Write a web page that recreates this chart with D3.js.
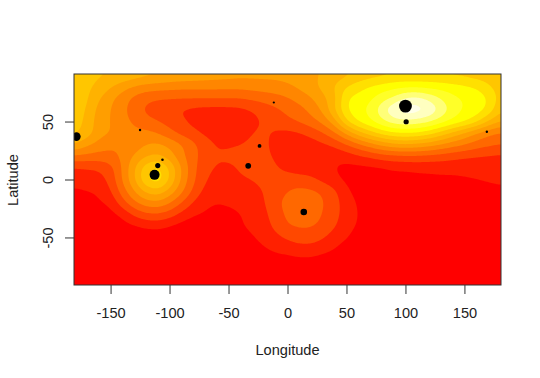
<!DOCTYPE html>
<html lang="en">
  <head>
    <meta charset="UTF-8" />
    <title>Longitude / Latitude surface</title>
    <script src="https://d3js.org/d3.v7.min.js"></script>
    <style>
      body { margin: 0; background: #fff; }
      text { font-family: "Liberation Sans", Arial, sans-serif; font-size: 14.6px; fill: #222; }
    </style>
  </head>
  <body>
    <svg id="chart" width="540" height="378"></svg>

    <script>
      // surface, one row per latitude (90 down to -90, step 10),
      // one column per longitude (-180 to 180, step 10)
      const lonStart = -180, latStart = 90, gridStep = 10;
      const surface = [
        [7.4,7.3,7.1,7,6.9,6.6,6.3,6.1,5.9,5.8,5.7,5.6,5.5,5.4,5.3,5.3,5.3,5.3,5.4,5.6,5.8,6.1,6.4,6.8,7.2,7.5,7.7,7.9,8,8,8,7.9,7.8,7.7,7.5,7.4,7.2],
        [7.4,7.2,6.8,6.1,5.4,4.9,4.6,4.5,4.4,4.3,4.3,4.3,4.3,4.3,4.3,4.4,4.5,4.6,4.8,5.2,5.7,6.3,7.1,8,8.6,9.1,9.4,9.7,9.8,9.8,9.7,9.6,9.4,9.2,8.9,8.2,7.5],
        [7.4,7.2,6.1,5.2,4.5,3.7,3.2,3,3,3,3,3,3,3,3,3.2,3.4,3.6,3.9,4.4,4.9,5.7,6.7,9,9.4,9.8,10.6,11.2,12.2,12.4,11.8,11,10.3,9.9,9.7,9,7.6],
        [7.4,7,5.6,5,4.3,3.4,2.8,2.5,2.2,1.9,1.7,1.6,1.6,1.6,1.7,2,2.4,2.8,3.2,3.6,4.3,5.2,7,9,9.7,10.3,11.7,13,13.8,13.6,13,11.8,10.6,9.9,9.6,8.8,7.2],
        [7.4,6.8,5.4,5,4.4,3.8,3.3,3,2.6,2.2,1.7,1.4,1.3,1.3,1.4,1.7,2.1,2.5,2.8,3.1,3.6,4.3,5.6,8,9.2,9.9,10.8,11.6,11.8,11.6,11.2,10.5,9.8,9.3,8.4,7,6],
        [7.2,6.6,5.4,5,4.6,4.3,4.3,4,3.3,2.7,2.3,1.8,1.5,1.5,1.6,2,2.2,1.8,1.7,1.9,2.3,2.9,3.8,5.2,6.6,7.6,8.4,8.9,9,8.9,8.4,7.6,6.7,5.8,4.9,4.2,3.8],
        [6,5.2,4.6,4.2,4.1,4.4,5,5.2,4.8,4.1,3.3,2.5,1.9,1.9,2,2.2,2.2,1.7,1.3,1.3,1.5,1.8,2.2,2.9,3.7,4.5,5.2,5.7,5.9,5.7,5.4,4.9,4.4,4,3.5,3.2,3],
        [3.8,3.7,3.6,3.7,4.2,5.1,5.9,6.2,5.5,4.3,3.3,2.6,2.1,2.2,2.3,2.4,2.2,1.9,1.4,1.2,1.1,1.1,1.2,1.4,1.8,2.1,2.5,2.6,2.7,2.7,2.6,2.5,2.3,2.1,2,1.9,1.8],
        [1.9,2,2.1,2.6,4.1,5.9,7.7,8.4,7,5,3.3,2.3,1.9,1.8,2.1,2.3,2.3,2.1,1.7,1.5,1.5,1.3,1,0.7,0.7,0.8,0.9,1.2,1.2,1.3,1.3,1.3,1.3,1.3,1.3,1.3,1.3],
        [1.3,1.4,1.6,2.3,4.1,5.9,8,8.8,7,4.9,3.2,2.1,1.6,1.7,1.9,2,2.2,2.4,2.5,2.4,2.2,1.7,1.2,0.8,0.4,0.3,0.3,0.4,0.5,0.6,0.7,0.8,0.8,0.9,1,1.1,1.2],
        [0.9,1,1.1,1.9,3.5,5,6.3,6.7,5.7,4.3,2.8,1.7,1.4,1.5,1.7,1.8,2,2.6,3,3.3,3.2,2.9,2.2,1.2,0.6,0.3,0.1,0,0,0,0.1,0.2,0.4,0.5,0.6,0.7,0.8],
        [0.4,0.6,0.9,1.2,2.6,3.8,4.6,4.8,4.1,3,1.9,1.2,1,1.1,1.2,1.5,1.9,2.8,3.3,3.6,3.5,3.1,2.4,1.5,0.9,0.2,0,0,0,0,0,0,0,0,0,0,0],
        [0,0.2,0.4,0.7,1.2,2.2,2.8,2.9,2.5,1.7,1.1,0.9,0.7,0.8,1,1.2,1.7,2.6,3.2,3.5,3.4,3,2.3,1.6,1,0.3,0,0,0,0,0,0,0,0,0,0,0],
        [0,0,0.1,0.3,0.6,0.9,1.2,1.3,1,0.6,0.4,0.4,0.4,0.4,0.9,1.3,1.5,2.3,3,3.1,3.1,2.8,2.1,1.4,0.9,0.3,0,0,0,0,0,0,0,0,0,0,0],
        [0,0,0,0,0.1,0.2,0.3,0.3,0.2,0.1,0.1,0.1,0.1,0.2,0.4,0.9,1.4,1.7,2.2,2.6,2.6,2.1,1.5,1.1,0.5,0.1,0,0,0,0,0,0,0,0,0,0,0],
        [0,0,0,0,0,0,0,0.1,0,0,0,0,0,0,0.1,0.4,0.9,1.2,1.3,1.5,1.5,1.3,1,0.5,0.1,0,0,0,0,0,0,0,0,0,0,0,0],
        [0,0,0,0,0,0,0,0,0,0,0,0,0,0,0,0.1,0.4,0.6,0.7,0.8,0.8,0.6,0.4,0.2,0,0,0,0,0,0,0,0,0,0,0,0,0],
        [0,0,0,0,0,0,0,0,0,0,0,0,0,0,0,0,0,0.1,0.2,0.2,0.2,0.1,0,0,0,0,0,0,0,0,0,0,0,0,0,0,0],
        [0,0,0,0,0,0,0,0,0,0,0,0,0,0,0,0,0,0,0,0,0,0,0,0,0,0,0,0,0,0,0,0,0,0,0,0,0],
      ];
      const bandColors = ["#FF0000","#FF2000","#FF4800","#FF6800","#FF8600","#FF9E00","#FFB200","#FFC600","#FFE000","#FFFF00","#FFFF28","#FFFF78","#FFFFC0","#FFFFE8"];

      // black dots
      const pointLon = [100,-112.7,-110,-106,-125,-23.7,-33.3,-11.6,13.8,100.6,169,-179];
      const pointLat = [63.3,4,12,17,42.7,29,11.8,66.4,-28,49.8,41.2,37];
      const pointMag = [6.4,5,2.6,1.3,1.2,1.9,2.9,1.1,3.3,2.6,1.2,4.3];

      const lonTicks = [-150,-100,-50,0,50,100,150];
      const latTicks = [-50,0,50];

      const svg = d3.select("#chart"),
        margin = { top: 74, right: 39, bottom: 93, left: 74 },
        width = +svg.attr("width") - margin.left - margin.right,
        height = +svg.attr("height") - margin.top - margin.bottom,
        chart = svg.append("g").attr("transform", `translate(${margin.left},${margin.top})`);

      const x = d3.scaleLinear().domain([-181, 181]).range([0, width]);
      const y = d3.scaleLinear().domain([-91, 91]).range([height, 0]);
      const r = d3.scaleLinear().domain([0, 10]).range([0, 10]);

      // resample to one degree so the bands come out smooth
      const nx = 363, ny = 183;
      const fine = new Float64Array(nx * ny);
      for (let j = 0; j < ny; j++) {
        const gy = Math.min(surface.length - 1.001, Math.max(0, (latStart - (91 - j)) / gridStep));
        const j0 = Math.floor(gy), ty = gy - j0;
        for (let i = 0; i < nx; i++) {
          const gx = Math.min(surface[0].length - 1.001, Math.max(0, (-181 + i - lonStart) / gridStep));
          const i0 = Math.floor(gx), tx = gx - i0;
          const top = surface[j0][i0] * (1 - tx) + surface[j0][i0 + 1] * tx;
          const bot = surface[j0 + 1][i0] * (1 - tx) + surface[j0 + 1][i0 + 1] * tx;
          fine[j * nx + i] = top * (1 - ty) + bot * ty;
        }
      }
      d3.blur2({ data: fine, width: nx, height: ny }, 3);

      const contours = d3.contours().size([nx, ny]).thresholds(d3.range(1, bandColors.length))(fine);
      const path = d3.geoPath(
        d3.geoTransform({
          point: function (px, py) {
            this.stream.point(x(-181 + px - 0.5), y(91 - py + 0.5));
          },
        })
      );

      svg.append("clipPath").attr("id", "plot").append("rect").attr("width", width).attr("height", height);
      const plot = chart.append("g").attr("clip-path", "url(#plot)");

      plot.append("rect").attr("width", width).attr("height", height).attr("fill", bandColors[0]);

      plot
        .selectAll("path")
        .data(contours)
        .enter()
        .append("path")
        .attr("d", path)
        .attr("fill", (d) => bandColors[d.value]);

      plot
        .selectAll("circle")
        .data(pointLon)
        .enter()
        .append("circle")
        .attr("cx", (d) => x(d))
        .attr("cy", (d, i) => y(pointLat[i]))
        .attr("r", (d, i) => r(pointMag[i]))
        .attr("fill", "#000");

      // Axes, R style hyphen in the labels
      const xAxis = chart
        .append("g")
        .attr("transform", `translate(0,${height})`)
        .call(d3.axisBottom(x).tickValues(lonTicks).tickFormat((d) => String(d)).tickSize(9).tickPadding(14));
      const yAxis = chart
        .append("g")
        .call(d3.axisLeft(y).tickValues(latTicks).tickFormat((d) => String(d)).tickSize(9).tickPadding(0));

      xAxis.select(".domain").remove();
      yAxis.select(".domain").remove();
      xAxis.selectAll("line").attr("stroke", "#333");
      yAxis.selectAll("line").attr("stroke", "#333");
      xAxis.selectAll("text").attr("fill", "#222").style("font-size", "14.6px").style("font-family", '"Liberation Sans"');
      yAxis
        .selectAll("text")
        .attr("fill", "#222")
        .attr("x", null)
        .attr("dy", null)
        .attr("transform", "translate(-21,0) rotate(-90)")
        .style("text-anchor", "middle")
        .style("font-size", "14.6px")
        .style("font-family", '"Liberation Sans"');

      chart
        .append("rect")
        .attr("width", width)
        .attr("height", height)
        .attr("fill", "none")
        .attr("stroke", "#333");

      // Axis Labels
      svg.append("text").attr("x", 287.5).attr("y", 355).style("text-anchor", "middle").text("Longitude");
      svg
        .append("text")
        .attr("transform", "translate(17.5,180) rotate(-90)")
        .style("text-anchor", "middle")
        .text("Latitude");
    </script>
  </body>
</html>
